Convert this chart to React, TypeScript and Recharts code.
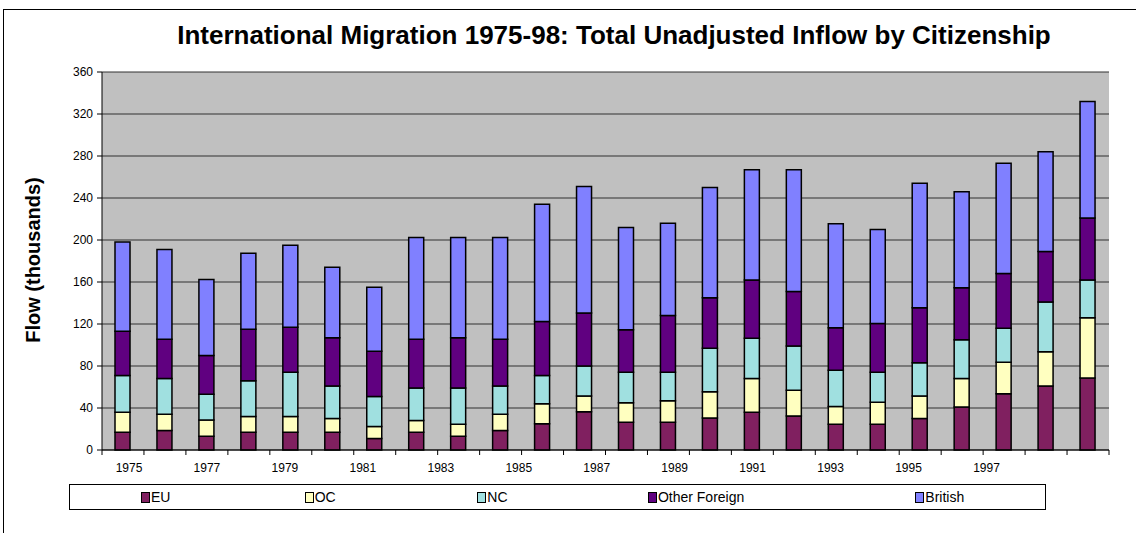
import { BarChart, Bar, XAxis, YAxis, CartesianGrid } from 'recharts';

// Inflow by citizenship, thousands
const years = [
  '1975', '1976', '1977', '1978', '1979', '1980', '1981', '1982',
  '1983', '1984', '1985', '1986', '1987', '1988', '1989', '1990',
  '1991', '1992', '1993', '1994', '1995', '1996', '1997', '1998'
];
const eu = [17, 18.5, 13, 17, 17, 17, 11, 17, 13, 18.5, 25, 36.5, 26.5, 26.5, 30.5, 36, 32.5, 24.5, 24.5, 30, 41, 53.5, 61, 68.5];
const oc = [19, 15.5, 15.5, 15, 15, 13, 11.5, 11, 11.5, 15.5, 19, 15, 18.5, 20.5, 25, 32, 24.5, 17, 21, 21.5, 27, 30, 32.5, 57.5];
const nc = [35, 34, 24.5, 34, 42, 31, 28.5, 31, 34.5, 27, 27, 28.5, 29, 27, 41.5, 38.5, 42, 34.5, 28.5, 31.5, 37, 32.5, 47.5, 36];
const otherForeign = [42, 37.5, 37, 49, 43, 46, 43, 46.5, 48, 44.5, 51.5, 50.5, 40.5, 54, 48, 55.5, 52, 40.5, 46.5, 52.5, 49.5, 52, 48, 59];
const british = [85, 85.5, 72.5, 72.5, 78, 67, 61, 97, 95.5, 97, 111.5, 120.5, 97.5, 88, 105, 105, 116, 99, 89.5, 118.5, 91.5, 105, 95, 111];
const yTicks = [0, 40, 80, 120, 160, 200, 240, 280, 320, 360];

const series = [
  { key: 'eu', name: 'EU', color: '#802060' },
  { key: 'oc', name: 'OC', color: '#FFFFC0' },
  { key: 'nc', name: 'NC', color: '#A0E0E0' },
  { key: 'of', name: 'Other Foreign', color: '#600080' },
  { key: 'br', name: 'British', color: '#8080FF' }
];

const data = years.map((year, i) => ({
  year,
  eu: eu[i],
  oc: oc[i],
  nc: nc[i],
  of: otherForeign[i],
  br: british[i]
}));

const FONT = '"Liberation Sans", Arial, sans-serif';
const W = 1136;
const H = 533;
const MARGIN = { top: 72, right: 27, bottom: 53, left: 42 };
const Y_AXIS_W = 60;
const BAND = (W - MARGIN.left - MARGIN.right - Y_AXIS_W) / years.length;

// year labels every other category, tick marks sit between the bars
const YearTick = (props: any) => {
  const { x, y, payload, index } = props;
  const half = BAND / 2;
  return (
    <g>
      {index === 0 && <line x1={x - half} x2={x - half} y1={y} y2={y + 5} stroke="#000" />}
      <line x1={x + half} x2={x + half} y1={y} y2={y + 5} stroke="#000" />
      {index % 2 === 0 && (
        <text
          x={x + 6 - 2.98 * index}
          y={y + 22}
          textAnchor="middle"
          fontSize={12}
          fontFamily={FONT}
          fill="#000"
        >
          {payload.value}
        </text>
      )}
    </g>
  );
};

const LegendBox = () => {
  const widths = [164, 173, 171, 268, 130];
  return (
    <div
      style={{
        position: 'absolute',
        left: 69,
        top: 484,
        width: 977,
        height: 26,
        border: '1px solid #000',
        background: '#fff',
        display: 'flex',
        alignItems: 'center',
        paddingLeft: 71,
        boxSizing: 'border-box',
        fontFamily: FONT,
        fontSize: 14
      }}
    >
      {series.map((s, i) => (
        <div key={s.key} style={{ width: widths[i], display: 'flex', alignItems: 'center' }}>
          <span
            style={{
              display: 'inline-block',
              width: 7,
              height: 9,
              background: s.color,
              border: '1px solid #000',
              marginRight: 1
            }}
          />
          <span>{s.name}</span>
        </div>
      ))}
    </div>
  );
};

export default function App() {
  return (
    <div style={{ position: 'absolute', left: 0, top: 0, width: W, height: H, background: '#fff', overflow: 'hidden' }}>
      <div
        style={{
          position: 'absolute',
          left: 3,
          top: 9,
          width: W,
          height: H,
          borderTop: '1px solid #000',
          borderLeft: '1px solid #000'
        }}
      />
      <div
        style={{
          position: 'absolute',
          left: 614,
          top: 20,
          transform: 'translateX(-50%)',
          whiteSpace: 'nowrap',
          fontFamily: FONT,
          fontWeight: 'bold',
          fontSize: 26,
          lineHeight: '30px'
        }}
      >
        International Migration 1975-98: Total Unadjusted Inflow by Citizenship
      </div>
      <div
        style={{
          position: 'absolute',
          left: 33 - 100,
          top: 260 - 12,
          width: 200,
          height: 24,
          lineHeight: '24px',
          textAlign: 'center',
          transform: 'rotate(-90deg)',
          whiteSpace: 'nowrap',
          fontFamily: FONT,
          fontWeight: 'bold',
          fontSize: 20
        }}
      >
        Flow (thousands)
      </div>
      <div style={{ position: 'absolute', left: 0, top: 0 }}>
        <BarChart width={W} height={H} data={data} margin={MARGIN} barSize={15}>
          <CartesianGrid vertical={false} stroke="#303030" fill="#C0C0C0" />
          <XAxis
            dataKey="year"
            interval={0}
            tickLine={false}
            tickSize={0}
            tickMargin={0}
            axisLine={{ stroke: '#000' }}
            tick={<YearTick />}
            height={30}
          />
          <YAxis
            domain={[0, 360]}
            ticks={yTicks}
            width={Y_AXIS_W}
            axisLine={{ stroke: '#000' }}
            tickLine={{ stroke: '#000' }}
            tickSize={5}
            tickMargin={4}
            tick={{ fill: '#000', fontSize: 12, fontFamily: FONT }}
          />
          <YAxis
            yAxisId="frame"
            orientation="right"
            domain={[0, 360]}
            width={0}
            tick={false}
            tickLine={false}
            axisLine={{ stroke: '#808080' }}
          />
          {series.map((s) => (
            <Bar
              key={s.key}
              dataKey={s.key}
              name={s.name}
              stackId="a"
              fill={s.color}
              stroke="#000"
              strokeWidth={1.5}
              isAnimationActive={false}
            />
          ))}
        </BarChart>
      </div>
      <LegendBox />
    </div>
  );
}
